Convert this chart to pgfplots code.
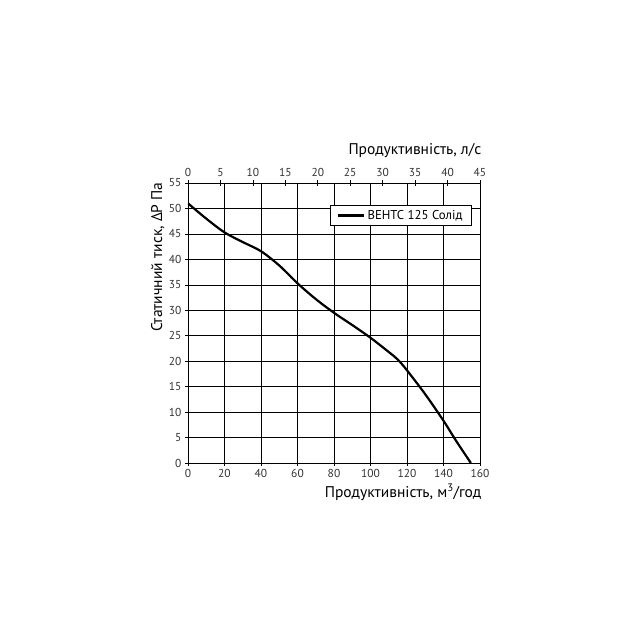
\documentclass[border=0pt]{standalone}
\usepackage{pgfplots}
\pgfplotsset{compat=1.18}
\usepackage{fontspec}
\setmainfont{PT Sans}
\begin{document}
\begin{tikzpicture}[x=1pt,y=1pt]
\path[use as bounding box] (-188,-177) rectangle (452,463);
\begin{axis}[
  at={(0,0)}, anchor=origin,
  scale only axis, width=292pt, height=280pt,
  xmin=0, xmax=160, ymin=0, ymax=55,
  xtick={0,20,...,160}, ytick={0,5,...,55},
  grid=major,
  major grid style={black, line width=0.6pt},
  axis line style={black, line width=0.8pt},
  tick style={black, line width=0.6pt},
  major tick length=6pt,
  tick align=center,
  axis x line*=bottom, axis y line*=left,
  ticklabel style={font=\fontsize{11.5}{13}\selectfont, text=black!80},
  /pgf/number format/assume math mode=true,
  xlabel={Продуктивність, м\textsuperscript{3}/год},
  xlabel style={at={(axis description cs:1.005,-0.075)}, anchor=north east, font=\fontsize{15.5}{17}\selectfont, inner sep=0pt},
  ylabel={Статичний тиск, ΔP Па},
  ylabel style={at={(axis description cs:-0.08,0.735)}, anchor=south, font=\fontsize{15.5}{17}\selectfont, inner sep=0pt},
  legend style={at={(axis cs:155.5,50.6)}, anchor=north east, draw=black, line width=0.6pt, font=\fontsize{12.8}{14}\selectfont, inner xsep=7pt, inner ysep=2.5pt, fill=white},
  legend cell align=left,
  legend image code/.code={\draw[#1, line width=2.2pt] (0pt,0pt) -- (26pt,0pt);},
]
\addplot[black, line width=2.2pt, smooth] coordinates {
(0,51) (10,48) (20,45.3) (30,43.4) (40,41.6) (50,38.8) (60,35.3) (70,32.2) (80,29.5) (90,27.1) (100,24.6) (110,21.8) (115,20.3) (120,18.2) (130,13.5) (140,8.3) (147,4.3) (155,0)
};
\addlegendentry{ВЕНТС 125 Солід}
\draw[black, line width=0.8pt] (axis cs:0,55) -- (axis cs:160,55);
\draw[black, line width=0.8pt] (axis cs:160,0) -- (axis cs:160,55);
\end{axis}
\begin{axis}[
  at={(0,0)}, anchor=origin,
  scale only axis, width=292pt, height=280pt,
  xmin=0, xmax=45, ymin=0, ymax=55,
  axis x line*=top, axis y line=none,
  xtick={0,5,...,45},
  axis line style={black, line width=0.8pt},
  tick style={black, line width=0.6pt},
  major tick length=6pt,
  tick align=center,
  ticklabel style={font=\fontsize{11.5}{13}\selectfont, text=black!80},
  /pgf/number format/assume math mode=true,
  xlabel={Продуктивність, л/с},
  xlabel style={at={(axis description cs:1.005,1.09)}, anchor=south east, font=\fontsize{15.5}{17}\selectfont, inner sep=0pt},
]
\end{axis}
\end{tikzpicture}
\end{document}
